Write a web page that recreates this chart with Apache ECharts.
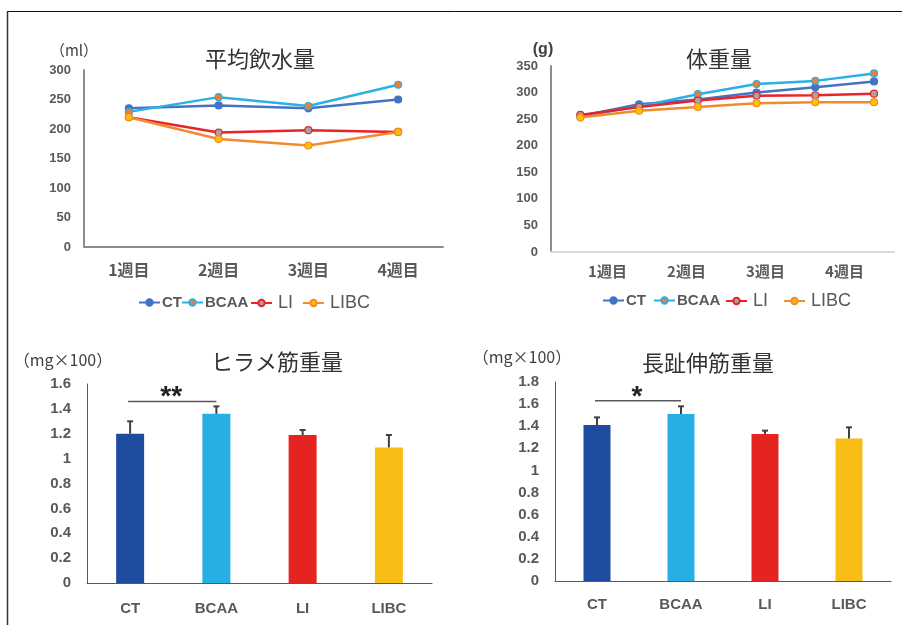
<!DOCTYPE html>
<html>
<head>
<meta charset="utf-8">
<script src="https://cdn.jsdelivr.net/npm/echarts@6/dist/echarts.min.js"></script>
<style>
  html, body { margin: 0; padding: 0; background: #ffffff; }
  #chart { width: 902px; height: 625px; }
</style>
</head>
<body>
<div id="chart"></div>
<script>
// ---- data ----
const weeks = ['1週目', '2週目', '3週目', '4週目'];
const groups = ['CT', 'BCAA', 'LI', 'LIBC'];

// average water intake (ml), one value per week
const waterCT   = [235, 240, 235, 250];
const waterBCAA = [229, 254, 239, 275];
const waterLI   = [220, 194, 198, 195];
const waterLIBC = [220, 183, 172, 195];

// body weight (g), six weighings over the four weeks
const weightCT   = [256, 278, 287, 300, 310, 321];
const weightBCAA = [255, 274, 297, 316, 322, 336];
const weightLI   = [258, 273, 285, 294, 295, 298];
const weightLIBC = [253, 266, 273, 280, 282, 282];

// soleus weight (mg x 100): mean and upper error
const soleusMean = [1.20, 1.36, 1.19, 1.09];
const soleusErr  = [0.10, 0.06, 0.04, 0.10];
// EDL weight (mg x 100): mean and upper error
const edlMean = [1.41, 1.51, 1.33, 1.29];
const edlErr  = [0.07, 0.07, 0.03, 0.10];

// significance brackets: [from group, to group, bracket level, mark]
const soleusSig = [0, 1, 1.46, '**'];
const edlSig    = [0, 1, 1.63, '*'];

// ---- styles ----
const lineColors   = ['#4472C4', '#2AB0E6', '#E8232A', '#F28A2E'];
const markerColors = ['#4472C4', '#ED7D31', '#A5A5A5', '#FFC000'];
const barColors    = ['#1F4C9E', '#27AFE4', '#E52421', '#F8BE15'];
const axisGrey = '#595959';
const cjk = '"Noto Sans CJK JP", sans-serif';
const latin = '"Liberation Sans", Arial, sans-serif';

function lineSeries(name, idx, values, xi, yi, asPairs) {
  return {
    type: 'line', name: name,
    xAxisIndex: xi, yAxisIndex: yi,
    data: asPairs ? values.map((v, i) => [i, v]) : values,
    symbol: 'circle', symbolSize: 7,
    lineStyle: { color: lineColors[idx], width: 2.5 },
    itemStyle: { color: markerColors[idx], borderColor: lineColors[idx], borderWidth: 1.2 },
    emphasis: { disabled: true },
    z: 3 + idx
  };
}

function errorSeries(means, errs, xi, yi) {
  return {
    type: 'custom', xAxisIndex: xi, yAxisIndex: yi,
    data: means.map((v, i) => [i, v, errs[i]]),
    encode: { x: 0, y: 1 },
    z: 10,
    renderItem: function (params, api) {
      const base = api.coord([api.value(0), api.value(1)]);
      const top = api.coord([api.value(0), api.value(1) + api.value(2)]);
      return {
        type: 'group',
        children: [
          { type: 'line', shape: { x1: base[0], y1: base[1], x2: top[0], y2: top[1] },
            style: { stroke: '#404040', lineWidth: 2 } },
          { type: 'line', shape: { x1: top[0] - 3, y1: top[1], x2: top[0] + 3, y2: top[1] },
            style: { stroke: '#404040', lineWidth: 2 } }
        ]
      };
    }
  };
}

function sigSeries(sig, xi, yi) {
  return {
    type: 'custom', xAxisIndex: xi, yAxisIndex: yi,
    data: [[sig[0], sig[1], sig[2]]],
    encode: { x: [0, 1], y: 2 },
    z: 10,
    renderItem: function (params, api) {
      const a = api.coord([api.value(0), api.value(2)]);
      const b = api.coord([api.value(1), api.value(2)]);
      return {
        type: 'group',
        children: [
          { type: 'line', shape: { x1: a[0] - 2, y1: a[1], x2: b[0], y2: b[1] },
            style: { stroke: '#595959', lineWidth: 1.5 } },
          { type: 'text',
            style: { text: sig[3], x: (a[0] + b[0]) / 2 - 2, y: a[1] - 4,
                     textAlign: 'center', textVerticalAlign: 'middle',
                     font: 'bold 28px ' + latin, fill: '#222' } }
        ]
      };
    }
  };
}

function legendItem(name, left, top, size, bold) {
  return {
    data: [name], left: left, top: top, padding: 0,
    itemWidth: 21, itemHeight: 8, selectedMode: false,
    textStyle: { color: axisGrey, fontFamily: latin, fontSize: size,
                 fontWeight: bold ? 'bold' : 'normal', padding: [0, 0, 0, bold ? -3 : 1] }
  };
}

function valueY(grid, max, interval, labelSize, margin, lineColor, lineWidth) {
  return {
    type: 'value', gridIndex: grid, min: 0, max: max, interval: interval,
    splitLine: { show: false },
    axisTick: { show: false },
    axisLine: { show: true, onZero: false, lineStyle: { color: lineColor, width: lineWidth } },
    axisLabel: { color: axisGrey, fontFamily: latin, fontWeight: 'bold', fontSize: labelSize, margin: margin }
  };
}

const chart = echarts.init(document.getElementById('chart'), null, { renderer: 'canvas' });

const option = {
  backgroundColor: '#ffffff',
  animation: false,
  grid: [
    { left: 84,  top: 70,  width: 359, height: 177 },
    { left: 551, top: 66,  width: 343, height: 186 },
    { left: 87,  top: 384, width: 345, height: 199 },
    { left: 555, top: 382, width: 336, height: 199 },
    { left: 568, top: 66,  width: 316, height: 186 }
  ],
  xAxis: [
    { type: 'category', gridIndex: 0, data: weeks, boundaryGap: true,
      axisTick: { show: false },
      axisLine: { lineStyle: { color: '#8C8C8C', width: 2 } },
      axisLabel: { color: axisGrey, fontFamily: cjk, fontWeight: 'bold', fontSize: 16, margin: 15 } },
    { type: 'value', gridIndex: 1, min: -0.5, max: 5.34,
      splitLine: { show: false }, axisTick: { show: false }, axisLabel: { show: false },
      axisLine: { show: true, onZero: false, lineStyle: { color: '#D3DAE6', width: 2 } } },
    { type: 'category', gridIndex: 2, data: groups,
      axisTick: { show: false },
      axisLine: { lineStyle: { color: axisGrey, width: 1 } },
      axisLabel: { color: axisGrey, fontFamily: latin, fontWeight: 'bold', fontSize: 15, margin: 18 } },
    { type: 'category', gridIndex: 3, data: groups,
      axisTick: { show: false },
      axisLine: { lineStyle: { color: axisGrey, width: 1 } },
      axisLabel: { color: axisGrey, fontFamily: latin, fontWeight: 'bold', fontSize: 15, margin: 16 } },
    { type: 'category', gridIndex: 4, data: weeks,
      axisTick: { show: false }, axisLine: { show: false },
      axisLabel: { color: axisGrey, fontFamily: cjk, fontWeight: 'bold', fontSize: 15, margin: 12 } }
  ],
  yAxis: [
    valueY(0, 300, 50, 13, 13, '#8C8C8C', 2),
    valueY(1, 350, 50, 13, 13, '#8C8C8C', 2),
    valueY(2, 1.6, 0.2, 15, 16, axisGrey, 1),
    valueY(3, 1.8, 0.2, 15, 16, axisGrey, 1),
    { type: 'value', gridIndex: 4, show: false, min: 0, max: 1 }
  ],
  legend: [
    legendItem('CT', 138, 295, 15, true),
    legendItem('BCAA', 181, 295, 15, true),
    legendItem('LI', 250, 294, 18, false),
    legendItem('LIBC', 302, 294, 18, false),
    legendItem('CT', 602, 293, 15, true),
    legendItem('BCAA', 653, 293, 15, true),
    legendItem('LI', 725, 292, 18, false),
    legendItem('LIBC', 783, 292, 18, false)
  ],
  graphic: [
    // frame lines
    { type: 'line', shape: { x1: 7, y1: 11.5, x2: 902, y2: 11.5 }, style: { stroke: '#111', lineWidth: 1 } },
    { type: 'line', shape: { x1: 7.5, y1: 11, x2: 7.5, y2: 625 }, style: { stroke: '#333', lineWidth: 1.5 } },
    // chart titles
    { type: 'text', style: { text: '平均飲水量', x: 260, y: 59, textAlign: 'center', textVerticalAlign: 'middle',
                             font: '22px ' + cjk, fill: '#333' } },
    { type: 'text', style: { text: '体重量', x: 719, y: 59, textAlign: 'center', textVerticalAlign: 'middle',
                             font: '22px ' + cjk, fill: '#333' } },
    { type: 'text', style: { text: 'ヒラメ筋重量', x: 277, y: 362, textAlign: 'center', textVerticalAlign: 'middle',
                             font: '22px ' + cjk, fill: '#333' } },
    { type: 'text', style: { text: '長趾伸筋重量', x: 708, y: 363, textAlign: 'center', textVerticalAlign: 'middle',
                             font: '22px ' + cjk, fill: '#333' } },
    // unit labels
    { type: 'text', style: { text: '（ml）', x: 74, y: 50, textAlign: 'center', textVerticalAlign: 'middle',
                             font: '15px ' + cjk, fill: '#404040' } },
    { type: 'text', style: { text: '(g)', x: 543, y: 50, textAlign: 'center', textVerticalAlign: 'middle',
                             font: 'bold 16px ' + latin, fill: '#404040' } },
    { type: 'text', style: { text: '（mg×100）', x: 63, y: 360, textAlign: 'center', textVerticalAlign: 'middle',
                             font: '16px ' + cjk, fill: '#404040' } },
    { type: 'text', style: { text: '（mg×100）', x: 522, y: 357, textAlign: 'center', textVerticalAlign: 'middle',
                             font: '16px ' + cjk, fill: '#404040' } }
  ],
  series: [
    lineSeries('CT', 0, waterCT, 0, 0, false),
    lineSeries('BCAA', 1, waterBCAA, 0, 0, false),
    lineSeries('LI', 2, waterLI, 0, 0, false),
    lineSeries('LIBC', 3, waterLIBC, 0, 0, false),
    lineSeries('CT', 0, weightCT, 1, 1, true),
    lineSeries('BCAA', 1, weightBCAA, 1, 1, true),
    lineSeries('LI', 2, weightLI, 1, 1, true),
    lineSeries('LIBC', 3, weightLIBC, 1, 1, true),
    { type: 'bar', name: 'ヒラメ筋重量', xAxisIndex: 2, yAxisIndex: 2, barWidth: 28,
      data: soleusMean.map((v, i) => ({ value: v, itemStyle: { color: barColors[i] } })) },
    errorSeries(soleusMean, soleusErr, 2, 2),
    sigSeries(soleusSig, 2, 2),
    { type: 'bar', name: '長趾伸筋重量', xAxisIndex: 3, yAxisIndex: 3, barWidth: 27,
      data: edlMean.map((v, i) => ({ value: v, itemStyle: { color: barColors[i] } })) },
    errorSeries(edlMean, edlErr, 3, 3),
    sigSeries(edlSig, 3, 3)
  ]
};

chart.setOption(option);
</script>
</body>
</html>
